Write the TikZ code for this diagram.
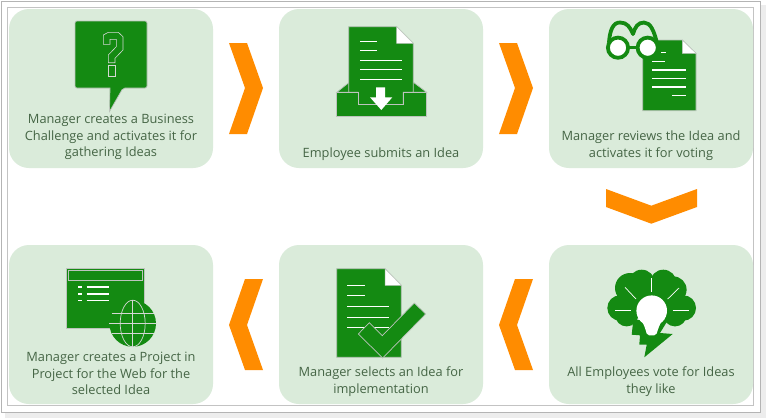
\documentclass[tikz,border=0pt]{standalone}
\usepackage{fontspec}
\setmainfont{Open Sans}
\definecolor{iconGreen}{HTML}{148A12}
\definecolor{boxGreen}{HTML}{DAEBDA}
\definecolor{arrowOrange}{HTML}{FF8C00}
\definecolor{textGreen}{HTML}{456545}
\definecolor{frameGray}{HTML}{B4B4B4}
\definecolor{edgeGray}{HTML}{BDC4BD}
\definecolor{markGray}{HTML}{D4D8D4}
\tikzset{
  stepbox/.style={fill=boxGreen,rounded corners=20pt,minimum width=204pt,minimum height=159pt,inner sep=0pt},
  steptext/.style={font=\fontsize{12.8}{16.5}\selectfont,text=textGreen,align=center,inner sep=0pt},
  chevron/.style={fill=arrowOrange},
  icon/.style={fill=iconGreen,draw=edgeGray,line width=0.7pt},
  pagefold/.style={fill=white,draw=edgeGray,line width=0.5pt},
  whiteline/.style={draw=white,line width=1.2pt},
  whitefine/.style={draw=white,line width=0.7pt},
  rim/.style={draw=iconGreen,line width=3.8pt,fill=white},
  temple/.style={draw=iconGreen,line width=3.8pt,line cap=round},
  globeline/.style={draw=markGray,line width=0.7pt}
}
\begin{document}
\begin{tikzpicture}[x=1pt,y=-1pt]
\useasboundingbox (0,0) rectangle (766,418);
% frame
\fill[black!7] (5,5) rectangle (766,418);
\fill[white,draw=frameGray,line width=1pt] (1,1) rectangle (760,412);
\draw[frameGray!80,line width=1pt] (7.5,7.5) rectangle (753,405.5);
% boxes
\node[stepbox] (box1) at (111,88.5) {};
\node[stepbox] (box2) at (381,88.5) {};
\node[stepbox] (box3) at (651,88.5) {};
\node[stepbox] (box4) at (651,324.5) {};
\node[stepbox] (box5) at (381,324.5) {};
\node[stepbox] (box6) at (111,324.5) {};
% chevrons
\fill[chevron] (229,43) -- (247,43) -- (263,88) -- (247,134) -- (229,134) -- (245,88) -- cycle;
\fill[chevron] (499,43) -- (517,43) -- (533,88) -- (517,134) -- (499,134) -- (515,88) -- cycle;
\fill[chevron] (606,189) -- (651.3,205.7) -- (697,189) -- (697,207) -- (651.3,223.7) -- (606,207) -- cycle;
\fill[chevron] (533,279) -- (515,279) -- (499,325) -- (515,370) -- (533,370) -- (517,325) -- cycle;
\fill[chevron] (263,279) -- (245,279) -- (229,325) -- (245,370) -- (263,370) -- (247,325) -- cycle;
% icon 1
\draw[icon,rounded corners=2pt] (75,21) -- (147,21) -- (147,88) -- (123,88) [sharp corners] -- (109.5,111.5) -- (110,88) [rounded corners=2pt] -- (75,88) -- cycle;
\draw[markGray,line width=0.6pt] (103.3,35) -- (108.3,32.3) -- (118.3,32.3) -- (123,36.7) -- (123,50) -- (115,58.3) -- (115,62.7) -- (108.3,62.7) -- (108.3,55) -- (116.3,46.7) -- (116.3,39.3) -- (110,39.3) -- (110,44.3) -- (103.3,44.3) -- cycle;
\draw[markGray,line width=0.6pt] (108.3,65.3) rectangle (115.7,76.7);
% icon 2
\draw[icon] (336.7,92.3) -- (348.7,82.7) -- (414,82.7) -- (426.7,92.3) -- cycle;
\draw[icon] (348.7,26.7) -- (396.7,26.7) -- (413.3,43.3) -- (413.3,92.3) -- (403.3,92.3) -- (403.3,104.7) -- (358.3,104.7) -- (358.3,92.3) -- (348.7,92.3) -- cycle;
\draw[pagefold] (396.7,26.7) -- (413.3,43.3) -- (396.7,43.3) -- cycle;
\draw[icon] (336.7,92.3) -- (358.3,92.3) -- (358.3,104.7) -- (403.3,104.7) -- (403.3,92.3) -- (426.7,92.3) -- (426.7,116.7) -- (336.7,116.7) -- cycle;
\draw[whiteline] (360.3,41.3) -- (376.7,41.3);
\draw[whiteline] (360.3,50.3) -- (376.7,50.3);
\draw[whiteline] (360.3,60.3) -- (401.7,60.3);
\draw[whiteline] (360.3,69.3) -- (401.7,69.3);
\draw[whiteline] (360.3,79.3) -- (401.7,79.3);
\fill[white] (376,87.3) -- (385,87.3) -- (385,97.3) -- (392.3,97.3) -- (381.3,110) -- (370,97.3) -- (376,97.3) -- cycle;
% icon 3
\draw[icon] (642.7,40) -- (682.3,40) -- (696,53.3) -- (696,110.7) -- (642.7,110.7) -- cycle;
\draw[pagefold] (682.3,40) -- (696,53.3) -- (682.3,53.3) -- cycle;
\draw[whiteline] (661,52.7) -- (665.7,52.7);
\draw[whiteline] (652.3,61.3) -- (665.3,61.3);
\draw[whiteline] (652.3,70) -- (685.7,70);
\draw[whiteline] (652.3,78.3) -- (685.7,78.3);
\draw[whiteline] (652.3,87) -- (685.7,87);
\draw[whiteline] (672.3,95.7) -- (685.7,95.7);
\draw[temple] (609,42) .. controls (610,30) and (613,22.5) .. (620,22.5) .. controls (627,22.5) and (630,27) .. (633,34);
\draw[temple] (633,34) .. controls (635,27) and (638,22.5) .. (644,22.5) .. controls (651,22.5) and (654,32) .. (656.5,41);
\draw[iconGreen,line width=3pt] (628,47.7) -- (637,47.7);
\draw[rim] (618,47.7) circle (10.1pt);
\draw[rim] (647.7,47.7) circle (10.1pt);
% icon 4
\fill[iconGreen] (620,308) circle (12.7pt);
\fill[iconGreen] (630,288) circle (15pt);
\fill[iconGreen] (641.7,283) circle (13.3pt);
\fill[iconGreen] (663.3,283) circle (13.3pt);
\fill[iconGreen] (673.3,289.7) circle (13.3pt);
\fill[iconGreen] (683.3,308) circle (12.7pt);
\fill[iconGreen] (626.7,314.7) circle (11.7pt);
\fill[iconGreen] (675,314.7) circle (11.7pt);
\fill[iconGreen] (625,285) rectangle (680,318);
\fill[iconGreen] (633.3,320) -- (631.7,334.7) -- (640,335.3) -- (639.3,344.7) -- (646.7,344.7) -- (644.3,357.3) -- (672.7,334) -- (660,333) -- (668,320) -- cycle;
\fill[white] (651.7,310.7) circle (15.3pt);
\fill[white,rounded corners=2pt] (642,321) -- (645.5,329) -- (647,335.3) -- (656.3,335.3) -- (658,329) -- (661.5,321) -- cycle;
\draw[whitefine] (651.7,278) -- (651.7,292.3);
\draw[whitefine] (625,287.3) -- (636,299);
\draw[whitefine] (679,288) -- (667.7,299);
\draw[whitefine] (615,310.7) -- (631,310.7);
\draw[whitefine] (672.7,310.7) -- (689,310.7);
% icon 5
\draw[icon] (336.7,268.7) -- (385,268.7) -- (401.3,285.3) -- (401.3,357.3) -- (336.7,357.3) -- cycle;
\draw[pagefold] (385,268.7) -- (401.3,285.3) -- (385,285.3) -- cycle;
\draw[whiteline] (347.3,285.3) -- (364.7,285.3);
\draw[whiteline] (347.3,295.7) -- (364.7,295.7);
\draw[whiteline] (347.3,306.3) -- (389.3,306.3);
\draw[whiteline] (347.3,317.3) -- (389.3,317.3);
\draw[whiteline] (347.3,327.7) -- (389.3,327.7);
\draw[icon] (358.3,334) -- (369.3,322.7) -- (382.3,335.7) -- (414.3,303) -- (425.7,314) -- (382.7,358) -- cycle;
% icon 6
\draw[icon] (66.7,268.7) rectangle (144.3,328.7);
\draw[edgeGray,line width=0.7pt] (68,270.7) rectangle (142.7,280.3);
\draw[whiteline] (78.3,287) -- (82.3,287);
\draw[whiteline] (78.3,294) -- (82.3,294);
\draw[whiteline] (78.3,300.3) -- (82.3,300.3);
\draw[whiteline] (86.7,287) -- (108.7,287);
\draw[whiteline] (86.7,294) -- (108.7,294);
\draw[whiteline] (86.7,300.3) -- (108.7,300.3);
\fill[iconGreen] (132.7,323.5) circle (23.3pt);
\draw[globeline] (132.7,323.5) ellipse (12.5pt and 23.3pt);
\draw[globeline] (132.7,300.2) -- (132.7,346.8);
\draw[globeline] (109.4,323.5) -- (156,323.5);
\draw[globeline] (111.7,313.5) -- (153.7,313.5);
\draw[globeline] (111.7,333.5) -- (153.7,333.5);
% texts
\node[steptext] (text1) at (111,137) {Manager creates a Business\\Challenge and activates it for\\gathering Ideas};
\node[steptext] (text2) at (381,154) {Employee submits an Idea};
\node[steptext] (text3) at (651,145.5) {Manager reviews the Idea and\\activates it for voting};
\node[steptext] (text4) at (651,381.5) {All Employees vote for Ideas\\they like};
\node[steptext] (text5) at (381,381.5) {Manager selects an Idea for\\implementation};
\node[steptext] (text6) at (111,373.5) {Manager creates a Project in\\Project for the Web for the\\selected Idea};
\end{tikzpicture}
\end{document}
